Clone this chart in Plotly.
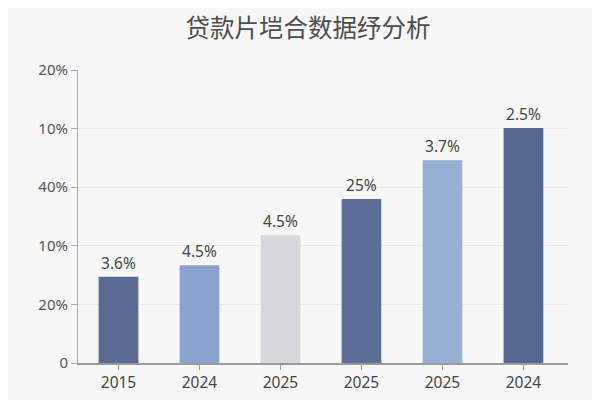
import plotly.graph_objects as go

# chart data (labels as printed on the chart)
categories = ["2015", "2024", "2025", "2025", "2025", "2024"]
values = [1.47, 1.67, 2.18, 2.80, 3.46, 4.01]
bar_labels = ["3.6%", "4.5%", "4.5%", "25%", "3.7%", "2.5%"]
bar_colors = ["#5a6b92", "#8aa2cf", "#d6d8dd", "#5b6e98", "#97aed3", "#55678f"]
y_tickvals = [0, 1, 2, 3, 4, 5]
y_ticktext = ["0", "20%", "10%", "40%", "10%", "20%"]

x_pos = list(range(len(categories)))

fig = go.Figure()
fig.add_trace(go.Bar(
    x=x_pos, y=values, width=0.49,
    marker=dict(color=bar_colors, line=dict(width=0)),
    text=bar_labels, textposition="outside", cliponaxis=False,
    textfont=dict(size=15.5, color="#444444", family="Noto Sans"),
    showlegend=False,
))

# page body has an 8px margin, so the figure sits 8px right and down
fig.update_layout(
    width=600, height=400,
    paper_bgcolor="#f7f7f7", plot_bgcolor="#f7f7f7",
    margin=dict(l=70, r=40, t=62, b=45),
    title=dict(text="贷款片垲合数据纾分析", x=0.5, xanchor="center", y=0.949, yanchor="middle",
               font=dict(size=24.5, color="#4d4d4d", family="Noto Sans CJK SC")),
    font=dict(family="Noto Sans", color="#555555", size=15),
    xaxis=dict(
        range=[-0.5, 5.55], tickvals=x_pos, ticktext=categories,
        showline=True, linecolor="#9a9a9a", linewidth=1.5,
        ticks="outside", ticklen=5, tickcolor="#9a9a9a",
        showgrid=False, zeroline=False,
        tickfont=dict(size=15.5, color="#444444"),
    ),
    yaxis=dict(
        range=[0, 5], tickvals=y_tickvals, ticktext=y_ticktext,
        showline=True, linecolor="#aaaaaa", linewidth=1,
        ticks="outside", ticklen=6, tickcolor="#aaaaaa",
        showgrid=True, gridcolor="#e8e8e8", gridwidth=1, zeroline=False,
        tickfont=dict(size=15, color="#555555"),
    ),
    bargap=0.5,
)

fig.write_html("out.html")
